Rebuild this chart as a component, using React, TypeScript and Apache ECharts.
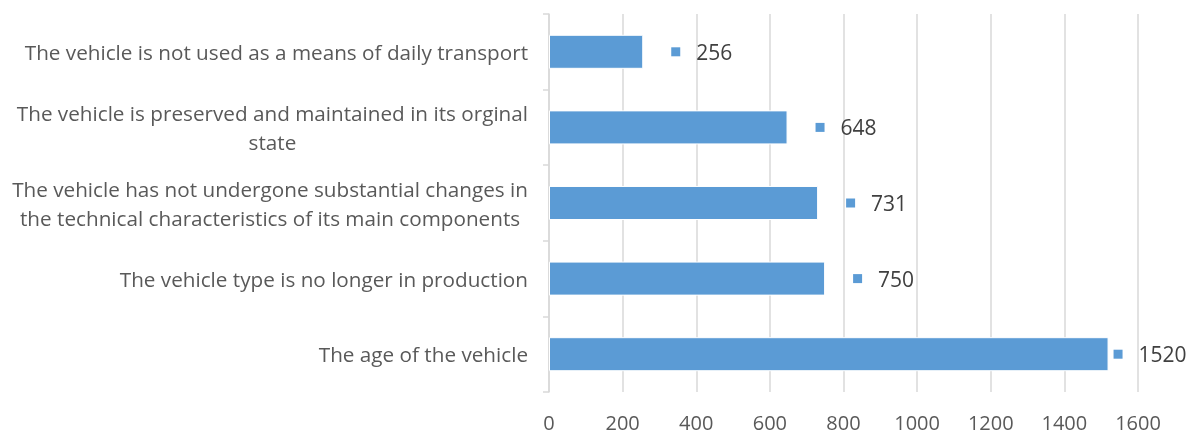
import React, { useEffect, useRef } from "react";
import * as echarts from "echarts";

// bottom-to-top order (ECharts category y axis starts at bottom)
const categories = [
  "The age of the vehicle",
  "The vehicle type is no longer in production",
  "The vehicle has not undergone substantial changes in\nthe technical characteristics of its main components",
  "The vehicle is preserved and maintained in its orginal\nstate",
  "The vehicle is not used as a means of daily transport",
];
const values = [1520, 750, 731, 648, 256];
const labelDistances = [5, 28, 28, 28, 28];
const xTicks = { min: 0, max: 1600, interval: 200 };

const FONT = "'Open Sans', 'DejaVu Sans', sans-serif";
const BAR = "#5B9BD5";

export default function App() {
  const ref = useRef<HTMLDivElement>(null);
  useEffect(() => {
    if (!ref.current) return;
    const chart = echarts.init(ref.current, undefined, { renderer: "svg" });
    chart.setOption({
      animation: false,
      grid: {
        left: 549,
        right: 53,
        top: 14,
        bottom: 44,
        containLabel: false,
        outerBoundsMode: "none",
      },
      xAxis: {
        type: "value",
        min: xTicks.min,
        max: xTicks.max,
        interval: xTicks.interval,
        axisLine: { show: false },
        axisTick: { show: false },
        axisLabel: {
          color: "#595959",
          fontSize: 20,
          fontFamily: FONT,
          margin: 20,
          formatter: (v: number) => String(v),
        },
        splitLine: { show: true, lineStyle: { color: "#D9D9D9", width: 1.5 } },
      },
      yAxis: {
        type: "category",
        data: categories,
        axisLine: { show: true, lineStyle: { color: "#D9D9D9", width: 1.5 } },
        axisTick: { show: true, length: 6, lineStyle: { color: "#D9D9D9", width: 1.5 } },
        axisLabel: {
          margin: 21,
          fontSize: 20.7,
          fontFamily: FONT,
          color: "#595959",
          lineHeight: 29,
          formatter: (v: string) =>
            v
              .split("\n")
              .map((l) => `{c|${l}}`)
              .join("\n"),
          rich: {
            c: { align: "center", fontSize: 20.7, fontFamily: FONT, color: "#595959", lineHeight: 29 },
          },
        },
      },
      series: [
        {
          type: "bar",
          barCategoryGap: "55%",
          data: values.map((v, i) => ({
            value: v,
            label: { distance: labelDistances[i] },
          })),
          itemStyle: { color: BAR, borderColor: "#ffffff", borderWidth: 1 },
          label: {
            show: true,
            position: "right",
            formatter: (p: any) => `{m|}{v|${p.value}}`,
            rich: {
              m: { width: 9, height: 9, backgroundColor: BAR },
              v: { fontSize: 21, fontFamily: FONT, color: "#404040", padding: [0, 0, 0, 16] },
            },
          },
        },
      ],
    });
    return () => chart.dispose();
  }, []);
  return (
    <div
      ref={ref}
      style={{ position: "fixed", left: 0, top: 0, width: 1191, height: 436 }}
    />
  );
}
